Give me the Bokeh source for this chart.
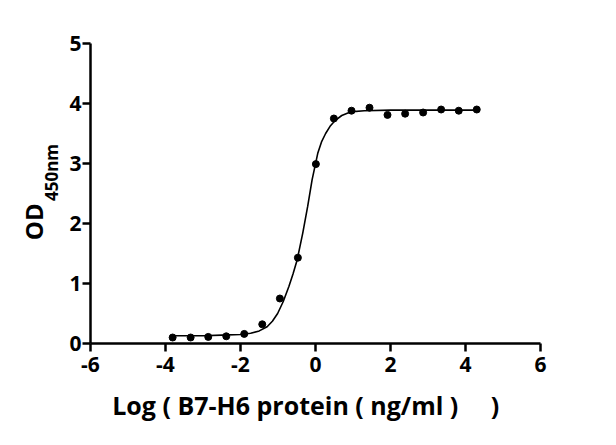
from bokeh.plotting import figure
from bokeh.models import FixedTicker, LinearAxis
from bokeh.embed import file_html
from bokeh.resources import INLINE

# log10 concentration of B7-H6 protein (ng/ml), 3-fold dilutions
log_conc = [4.30, 3.82, 3.35, 2.87, 2.39, 1.92, 1.44, 0.96, 0.49,
            0.01, -0.47, -0.95, -1.42, -1.90, -2.38, -2.86, -3.33, -3.81]
od450 = [3.90, 3.88, 3.90, 3.85, 3.83, 3.81, 3.93, 3.88, 3.75,
         2.99, 1.43, 0.75, 0.32, 0.16, 0.12, 0.11, 0.10, 0.10]

# fitted curve
fit_x = [-3.81, -3.0, -2.5, -2.0, -1.73, -1.5, -1.29, -1.15, -1.01, -0.86,
         -0.71, -0.6, -0.49, -0.34, -0.21, -0.09, 0.06, 0.16, 0.27, 0.4,
         0.53, 0.7, 0.93, 1.3, 2.0, 3.0, 4.31]
fit_y = [0.13, 0.13, 0.14, 0.15, 0.17, 0.21, 0.28, 0.37, 0.50, 0.70,
         0.95, 1.16, 1.39, 1.84, 2.28, 2.73, 3.17, 3.36, 3.50, 3.63,
         3.72, 3.80, 3.86, 3.88, 3.89, 3.89, 3.89]

x_ticks = [-6, -4, -2, 0, 2, 4, 6]
x_tick_labels = ["-6", "-4", "-2", "0", "2", "4", "6"]
y_ticks = [0, 1, 2, 3, 4, 5]
y_tick_labels = ["0", "1", "2", "3", "4", "5"]

FONT = "Open Sans"

p = figure(width=600, height=429, x_range=(-6, 6), y_range=(0, 5),
           output_backend="svg", toolbar_location=None,
           min_border_left=90, min_border_right=60,
           min_border_top=43, min_border_bottom=86)
p.outline_line_color = None
p.grid.visible = False

p.line(fit_x, fit_y, line_color="black", line_width=1.6)
p.scatter(log_conc, od450, size=7, fill_color="black", line_color="black")

for ax in (p.xaxis, p.yaxis):
    ax.axis_line_width = 2.5
    ax.major_tick_line_width = 2.5
    ax.major_tick_out = 8
    ax.major_tick_in = 0
    ax.minor_tick_line_color = None
    ax.major_label_text_font = FONT
    ax.major_label_text_font_style = "bold"
    ax.major_label_text_font_size = "21px"
    ax.major_label_text_color = "black"

p.xaxis.ticker = FixedTicker(ticks=x_ticks)
p.xaxis.major_label_overrides = dict(zip(x_ticks, x_tick_labels))
p.yaxis.ticker = FixedTicker(ticks=y_ticks)
p.yaxis.major_label_overrides = dict(zip(y_ticks, y_tick_labels))
p.xaxis.major_label_standoff = 5
p.yaxis.major_label_standoff = 1

p.xaxis.axis_label = "Log ( B7-H6 protein ( ng/ml )\u00a0\u00a0\u00a0\u00a0 )\u00a0\u00a0\u00a0"
p.xaxis.axis_label_text_font = FONT
p.xaxis.axis_label_text_font_style = "bold"
p.xaxis.axis_label_text_font_size = "25px"
p.xaxis.axis_label_text_color = "black"
p.xaxis.axis_label_standoff = 13


# y label "OD" with subscript "450nm", drawn as labels of two bare axes
def label_axis(pos, text, size, standoff):
    ax = LinearAxis(ticker=FixedTicker(ticks=[pos]),
                    major_label_overrides={pos: text},
                    major_label_orientation="parallel",
                    major_label_standoff=standoff,
                    major_label_text_font=FONT,
                    major_label_text_font_style="bold",
                    major_label_text_font_size=size,
                    major_label_text_color="black",
                    axis_line_color=None, major_tick_line_color=None,
                    minor_tick_line_color=None, major_tick_out=0)
    p.add_layout(ax, "left")


label_axis(2.85, "450nm", "17px", 4)
label_axis(2.03, "OD", "24px", -14)

open("out.html", "w").write(file_html(p, INLINE))
